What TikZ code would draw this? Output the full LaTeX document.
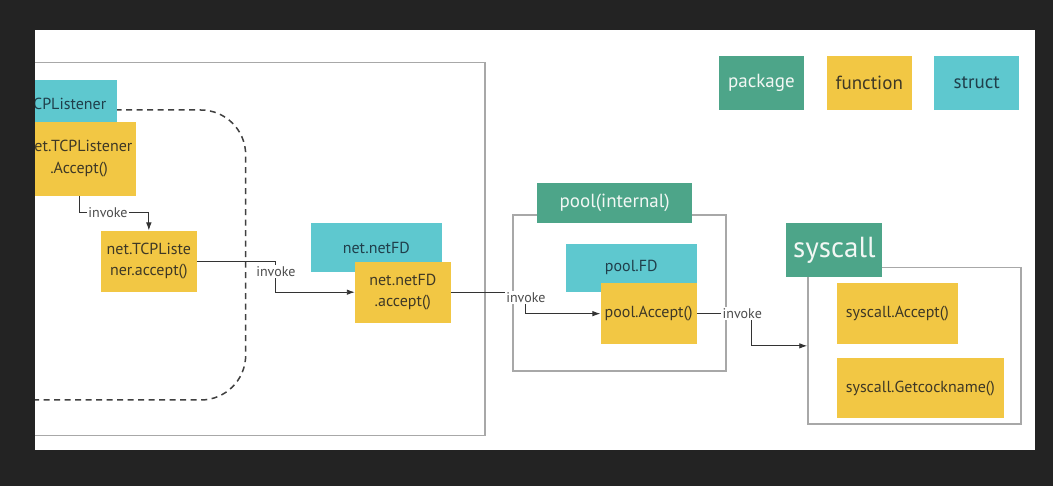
\documentclass[tikz,border=0pt]{standalone}
\usepackage{fontspec}
\setmainfont{PT Sans}
\usetikzlibrary{arrows.meta}
\definecolor{pkg}{HTML}{4DA589}
\definecolor{fun}{HTML}{F2C744}
\definecolor{stc}{HTML}{5EC8CF}
\definecolor{bg}{HTML}{232323}
\definecolor{frame}{HTML}{A8A8A8}
\definecolor{funtext}{HTML}{3E3826}
\definecolor{stctext}{HTML}{203F4B}
\definecolor{pkgtext}{HTML}{F2F7F4}
\tikzset{
  box/.style={rectangle, inner sep=0pt, anchor=center, align=center, font=\fontsize{16}{21.5}\selectfont},
  func/.style={box, fill=fun, text=funtext},
  strct/.style={box, fill=stc, text=stctext},
  pkgl/.style={box, fill=pkg, text=pkgtext, font=\fontsize{19}{23}\selectfont},
  legendfont/.style={font=\fontsize{19}{23}\selectfont},
  container/.style={draw=frame, line width=1.3pt, rectangle, inner sep=0pt},
  dashedregion/.style={draw=black!75, line width=1.5pt, dash pattern=on 6pt off 4.5pt, rounded corners=45pt},
  conn/.style={draw=black!80, line width=0.9pt, -{Latex[length=8pt,width=5.5pt]}},
  lbl/.style={fill=white, text=black!70, inner sep=1.5pt, font=\fontsize{14}{16}\selectfont},
}
\begin{document}
\begin{tikzpicture}[x=1pt,y=-1pt]
\useasboundingbox[fill=bg] (0,0) rectangle (1053,486);
\fill[white] (35,30) rectangle (1035,450);
\begin{scope}
  \clip (35,30) rectangle (1035,450);
  \node[container, minimum width=505pt, minimum height=373pt] (netbox) at (232.5,249.2) {};
  \draw[dashedregion] (0,110) -- (245.7,110) -- (245.7,400) -- (0,400);
  \node[strct, minimum width=129pt, minimum height=47.7pt] (tcpl) at (52.5,104.2) {\hphantom{net.T}CPListener};
  \node[func, minimum width=114pt, minimum height=74pt] (tcplAccept) at (79,158.7) {\hphantom{n}et.TCPListener\\.Accept()};
\end{scope}
% net package functions
\node[func, minimum width=95.7pt, minimum height=61pt] (tcplaccept) at (148.85,261.2) {net.TCPListe\\ner.accept()};
\node[strct, minimum width=130.7pt, minimum height=48.4pt] (netfd) at (376.35,247.5) {net.netFD};
\node[func, minimum width=95.7pt, minimum height=61pt] (netfdAccept) at (402.85,292.2) {net.netFD\\.accept()};
% pool
\node[container, minimum width=213pt, minimum height=156pt] (poolbox) at (619.5,293) {};
\node[pkgl, minimum width=154.6pt, minimum height=40.6pt] (pool) at (614.7,203) {pool(internal)};
\node[strct, minimum width=130.8pt, minimum height=47.7pt] (poolFD) at (631.3,267.85) {pool.FD};
\node[func, minimum width=96.1pt, minimum height=60.7pt] (poolAccept) at (648.65,313.65) {pool.Accept()};
% syscall
\node[container, minimum width=213.1pt, minimum height=156.3pt] (sysbox) at (914.45,345.85) {};
\node[pkgl, font=\fontsize{29}{33}\selectfont, minimum width=96.1pt, minimum height=53.4pt] (syscall) at (834.35,250) {syscall};
\node[func, minimum width=120.7pt, minimum height=60.7pt] (sysAccept) at (897.35,313.65) {syscall.Accept()};
\node[func, minimum width=166.7pt, minimum height=60pt] (sysGetsock) at (920.35,388.3) {syscall.Getcockname()};
% legend
\node[pkgl, minimum width=84.7pt, minimum height=54pt] (legPkg) at (761.4,83) {package};
\node[func, legendfont, minimum width=85pt, minimum height=54pt] (legFun) at (869.2,83) {function};
\node[strct, legendfont, minimum width=85pt, minimum height=54pt] (legStc) at (976.8,83) {struct};
% connectors
\draw[conn] (tcplAccept.south) -- ++(0,17) coordinate (c1) -- node[lbl,pos=0.415]{invoke} (c1 -| tcplaccept.north) -- (tcplaccept.north);
\draw[conn] (tcplaccept.east) -- ++(79,0) coordinate (c2) -- node[lbl,pos=0.33]{invoke} (c2 |- netfdAccept.west) -- (netfdAccept.west);
\draw[conn] (netfdAccept.east) -- ++(75,0) coordinate (c3) -- node[lbl,pos=0.24]{invoke} (c3 |- poolAccept.west) -- (poolAccept.west);
\draw[conn] (poolAccept.east) -- node[lbl,pos=0.825]{invoke} ++(55,0) coordinate (c4) -- (c4 |- sysbox.west) -- (sysbox.west);
\end{tikzpicture}
\end{document}
